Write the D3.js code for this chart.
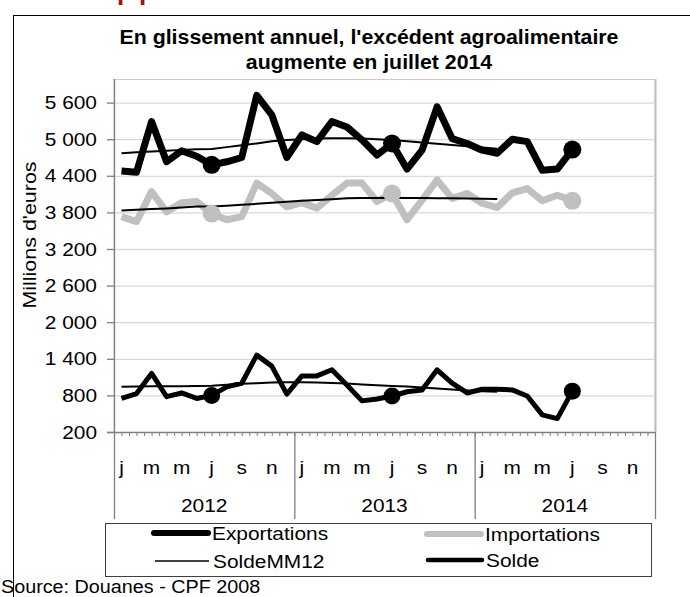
<!DOCTYPE html>
<html>
<head>
<meta charset="utf-8">
<script src="https://cdn.jsdelivr.net/npm/d3@7"></script>
<style>
  body { margin: 0; background: #fff; }
  svg { display: block; font-family: "Liberation Sans", Arial, sans-serif; }
</style>
</head>
<body>
<section></section>
<script>

// data : jan 2012 -> jul 2014, millions d'euros

const years = ['2012', '2013', '2014'];
const monthLabels = ['j', '', 'm', '', 'm', '', 'j', '', 's', '', 'n', ''];

const exportations = [4480, 4460, 5290, 4630, 4810, 4720, 4580, 4630, 4700, 5720, 5400, 4700,
    5070, 4960, 5290, 5200, 4990, 4740, 4930, 4510, 4820, 5530, 5010, 4930,
    4820, 4770, 5000, 4960, 4490, 4510, 4830];

const importations = [3730, 3650, 4140, 3810, 3960, 3980, 3780, 3680, 3730, 4280, 4110, 3890,
    3960, 3870, 4080, 4280, 4280, 3980, 4110, 3680, 4000, 4330, 4030, 4110,
    3950, 3880, 4120, 4190, 3990, 4080, 3990];

const solde = [750, 830, 1160, 780, 840, 750, 800, 940, 1000, 1460, 1280, 820,
    1120, 1120, 1220, 970, 710, 740, 790, 860, 890, 1220, 1000, 840,
    900, 900, 890, 790, 480, 420, 870];

const exportMM12 = [4770, 4785, 4800, 4810, 4825, 4835, 4840, 4870, 4900, 4930, 4965, 4985,
    5000, 5010, 5015, 5015, 5012, 5000, 4985, 4965, 4945, 4925, 4905, 4885,
    4865, 4845];

const importMM12 = [3830, 3845, 3855, 3865, 3880, 3895, 3895, 3910, 3925, 3940, 3960, 3975,
    3990, 4005, 4015, 4030, 4035, 4038, 4040, 4035, 4035, 4033, 4030, 4028,
    4025, 4020];

const soldeMM12 = [940, 945, 948, 950, 952, 955, 960, 975, 990, 1000, 1010, 1015,
    1015, 1010, 1005, 995, 980, 965, 955, 945, 930, 915, 895, 880,
    868, 858];

const yTicks = [200, 800, 1400, 2000, 2600, 3200, 3800, 4400, 5000, 5600];


const w = 690;
const h = 597;

// plot area
const px0 = 114, px1 = 655, py0 = 79, py1 = 432;

const svg = d3.select('section').append('svg').attr('width', w).attr('height', h);

// text is a bit wide in the picture, so stretch it a little
function label(parent, x, y, str, size, anchor, weight, sx) {
    return parent.append('text')
        .attr('transform', `translate(${x},${y}) scale(${sx || 1.13},1)`)
        .attr('text-anchor', anchor || 'start')
        .attr('font-size', size)
        .attr('font-weight', weight || 'normal')
        .attr('fill', '#000')
        .text(str);
}


// outer frame

svg.append('rect').attr('x', 13.5).attr('y', 15.5).attr('width', 720).attr('height', 620)
    .attr('fill', '#fff').attr('stroke', '#000').attr('stroke-width', 1);

// bits of the red heading above, cut by the page
svg.append('text').attr('x', 117).attr('y', 0).attr('font-size', 26).attr('font-weight', 'bold')
    .attr('fill', '#a0121e').text('p');
svg.append('text').attr('x', 139).attr('y', 0).attr('font-size', 26).attr('font-weight', 'bold')
    .attr('fill', '#a0121e').text('p');


// title

label(svg, 369, 44, "En glissement annuel, l'excédent agroalimentaire", 20.5, 'middle', 'bold', 1.04);
label(svg, 369, 69, 'augmente en juillet 2014', 20.5, 'middle', 'bold', 1.04);


// scales

const xScale = d3.scaleLinear().domain([0, 36]).range([px0, px1]);
const yScale = d3.scaleLinear().domain([200, 5600]).range([py1, 102.6]);

const fr = d3.formatLocale({ decimal: ',', thousands: '\u00a0', grouping: [3], currency: ['', ' €'] });
const fmt = fr.format(',d');


// plot area box

svg.append('rect').attr('x', px0).attr('y', py0 + 0.5).attr('width', px1 - px0).attr('height', py1 - py0)
    .attr('fill', 'none').attr('stroke', '#cccccc').attr('stroke-width', 1);
svg.append('line').attr('x1', px1 + 0.5).attr('x2', px1 + 0.5).attr('y1', py0).attr('y2', py1)
    .attr('stroke', '#c0c0c0').attr('stroke-width', 2);


// gridlines

const grid = svg.append('g').attr('transform', `translate(${px0},0)`)
    .call(d3.axisLeft(yScale).tickValues(yTicks.slice(1)).tickSize(-(px1 - px0)).tickFormat(''));
grid.select('.domain').remove();
grid.selectAll('line').attr('stroke', '#d9d9d9').attr('stroke-width', 1.3);


// y axis

const yAxis = svg.append('g').attr('transform', `translate(${px0},0)`)
    .call(d3.axisLeft(yScale).tickValues(yTicks).tickSize(7).tickFormat(''));
yAxis.select('.domain').attr('d', `M0.5,${py0}V${py1}`).attr('stroke', '#7f7f7f').attr('stroke-width', 1.3);
yAxis.selectAll('line').attr('stroke', '#7f7f7f').attr('stroke-width', 1.3);

yTicks.forEach(v => {
    label(svg, 97, yScale(v) + 6.5, fmt(v), 18.5, 'end');
});

svg.append('text')
    .attr('transform', `translate(36,${235}) rotate(-90) scale(1.16,1)`)
    .attr('text-anchor', 'middle')
    .attr('font-size', 18.5)
    .text("Millions d'euros");


// x axis

const xAxis = svg.append('g').attr('transform', `translate(0,${py1})`)
    .call(d3.axisBottom(xScale).tickValues(d3.range(0, 36.01, 0.5)).tickSize(4).tickFormat(''));
xAxis.select('.domain').attr('d', `M${px0 - 7},0.5H${px1}`).attr('stroke', '#7f7f7f').attr('stroke-width', 1.3);
xAxis.selectAll('line').attr('stroke', '#7f7f7f');

// year separators
svg.append('g').selectAll('line').data(d3.range(0, 37, 12)).enter().append('line')
    .attr('x1', d => xScale(d) + 0.5).attr('x2', d => xScale(d) + 0.5)
    .attr('y1', py1).attr('y2', 519)
    .attr('stroke', '#7f7f7f').attr('stroke-width', 1.3);

years.forEach((yr, k) => {
    monthLabels.forEach((m, i) => {
        if (m) label(svg, xScale(k * 12 + i + 0.5), 474, m, 18.5, 'middle');
    });
    label(svg, xScale(k * 12 + 6), 512, yr, 18.5, 'middle');
});


// series

const line = d3.line().x((d, i) => xScale(i + 0.5)).y(d => yScale(d));

const series = [
    { values: importations, color: '#c0c0c0', width: 7 },
    { values: exportations, color: '#000', width: 7 },
    { values: solde, color: '#000', width: 5 },
    { values: exportMM12, color: '#000', width: 2 },
    { values: importMM12, color: '#000', width: 2 },
    { values: soldeMM12, color: '#000', width: 2 }
];

svg.append('g').selectAll('path').data(series).enter().append('path')
    .attr('d', d => line(d.values))
    .attr('fill', 'none')
    .attr('stroke', d => d.color)
    .attr('stroke-width', d => d.width)
    .attr('stroke-linejoin', 'round');

// markers on july of each year
const july = [6, 18, 30];
const markers = [
    { values: importations, color: '#c0c0c0', r: 9 },
    { values: exportations, color: '#000', r: 9 },
    { values: solde, color: '#000', r: 8.5 }
];

markers.forEach(s => {
    svg.append('g').selectAll('circle').data(july).enter().append('circle')
        .attr('cx', i => xScale(i + 0.5))
        .attr('cy', i => yScale(s.values[i]))
        .attr('r', s.r)
        .attr('fill', s.color);
});


// legend

const legend = svg.append('g').attr('id', 'legend');

legend.append('rect').attr('x', 105.5).attr('y', 523.5).attr('width', 546).attr('height', 53)
    .attr('fill', '#fff').attr('stroke', '#404040').attr('stroke-width', 1);

const legItems = [
    { name: 'Exportations', color: '#000', width: 6, cap: 'round', x: 152, y: 533 },
    { name: 'Importations', color: '#c0c0c0', width: 6, cap: 'round', x: 425, y: 534 },
    { name: 'SoldeMM12', color: '#000', width: 1.6, cap: 'butt', x: 153, y: 561 },
    { name: 'Solde', color: '#000', width: 4.5, cap: 'round', x: 426, y: 560 }
];

legItems.forEach(d => {
    legend.append('line').attr('x1', d.x + 2).attr('x2', d.x + 56).attr('y1', d.y).attr('y2', d.y)
        .attr('stroke', d.color).attr('stroke-width', d.width).attr('stroke-linecap', d.cap);
    label(legend, d.x + 60, d.y + 7, d.name, 18.5, 'start');
});


// source

label(svg, 1, 593, 'Source: Douanes - CPF 2008', 17.5, 'start');

</script>
</body>
</html>
